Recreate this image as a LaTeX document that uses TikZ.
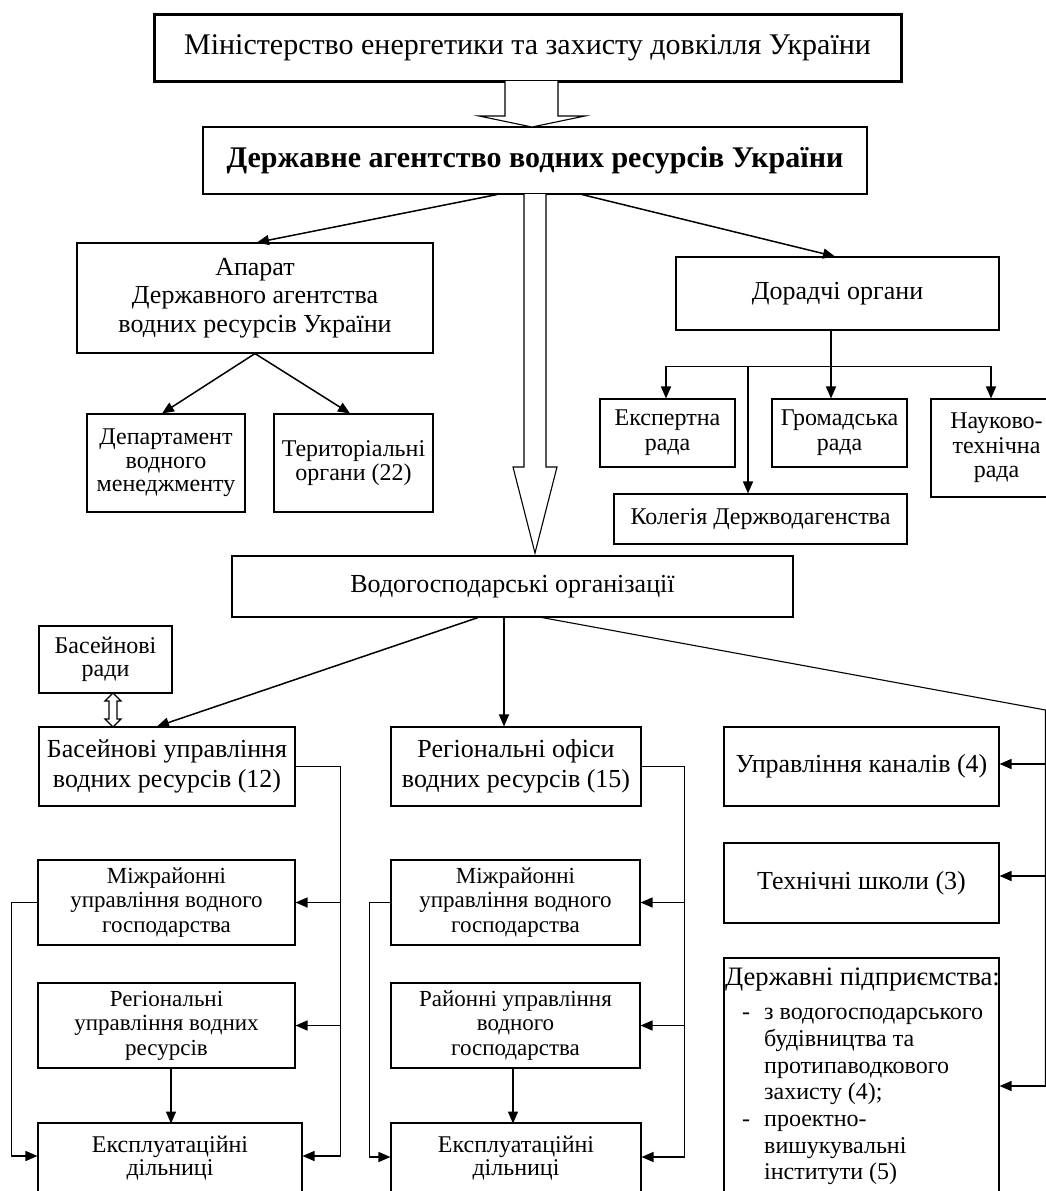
\documentclass[tikz,border=0pt]{standalone}
\usepackage{fontspec}
\setmainfont{Liberation Serif}
\usetikzlibrary{arrows.meta,calc}
\begin{document}
\begin{tikzpicture}[x=1pt,y=-1pt,
  box/.style={draw, rectangle, line width=1.1pt, inner sep=0pt, align=center},
  fbig/.style={font=\fontsize{30}{35}\selectfont},
  fmid/.style={font=\fontsize{26}{#1}\selectfont},
  fsm/.style={font=\fontsize{24}{#1}\selectfont},
  flow/.style={font=\fontsize{23}{24.5}\selectfont},
  arr/.style={-{Triangle[length=12pt,width=10pt]}, line width=1.5pt},
  ln/.style={line width=1.3pt},
  hollow/.style={draw, line width=1.1pt, fill=white, line join=miter},
]
\useasboundingbox (0,0) rectangle (1046,1191);

% top level
\node[box, line width=3pt, fbig, minimum width=747pt, minimum height=67pt] (min) at (527.5,47.5) {Міністерство енергетики та захисту довкілля України};
\node[box, fbig, minimum width=664pt, minimum height=67pt] (ag) at (535,160.5) {\textbf{Державне агентство водних ресурсів України}};

% apparatus
\node[box, fmid=28.5, minimum width=356pt, minimum height=110pt] (app) at (255,298) {Апарат\\Державного агентства\\водних ресурсів України};
\node[box, fsm=23.5, minimum width=158pt, minimum height=98pt] (dept) at (166,463) {Департамент\\водного\\менеджменту};
\node[box, fsm=23.5, minimum width=159pt, minimum height=98pt] (terr) at (353.5,463) {Територіальні\\органи (22)};

% advisory bodies
\node[box, fmid=28, minimum width=323pt, minimum height=73pt] (dor) at (837.5,293.5) {Дорадчі органи};
\node[box, fsm=25, minimum width=135pt, minimum height=68pt] (eksp) at (667.5,433) {Експертна\\рада};
\node[box, fsm=25, minimum width=135pt, minimum height=68pt] (hrom) at (839.5,433) {Громадська\\рада};
\node[box, fsm=24.5, minimum width=131pt, minimum height=98pt] (nauk) at (996.5,448) {Науково-\\технічна\\рада};
\node[box, fsm=28, minimum width=293pt, minimum height=50pt] (kol) at (760.5,519) {Колегія Держводагенства};

% water organisations
\node[box, fmid=28, minimum width=561pt, minimum height=61pt] (vodo) at (512.5,586.5) {Водогосподарські організації};
\node[box, fsm=23, minimum width=133pt, minimum height=67pt] (brady) at (105.5,659.5) {Басейнові\\ради};
\node[box, fmid=30, minimum width=256pt, minimum height=79pt] (bupr) at (167,766.5) {Басейнові управління\\водних ресурсів (12)};
\node[box, fmid=30, minimum width=250pt, minimum height=79pt] (rofis) at (516,766.5) {Регіональні офіси\\водних ресурсів (15)};
\node[box, fmid=28, minimum width=275pt, minimum height=79pt] (kan) at (861.5,766.5) {Управління каналів (4)};
\node[box, fmid=28, minimum width=275pt, minimum height=80pt] (tekh) at (861.5,883) {Технічні школи (3)};
\node[box, minimum width=275pt, minimum height=277pt] (dp) at (861.5,1096.5) {};
\node[anchor=base west, inner sep=0pt, font=\fontsize{24}{26.7}\selectfont] (dptext) at (725,985)
 {\begin{tabular}[t]{@{}l@{}}
  {\fontsize{26.6}{26.7}\selectfont Державні підприємства:}\\[8pt]
  \makebox[39pt][l]{\hspace*{17pt}-}з водогосподарського\\
  \hspace*{39pt}будівництва та\\
  \hspace*{39pt}протипаводкового\\
  \hspace*{39pt}захисту (4);\\
  \makebox[39pt][l]{\hspace*{17pt}-}проектно-\\
  \hspace*{39pt}вишукувальні\\
  \hspace*{39pt}інститути (5)
 \end{tabular}};

% left column
\node[box, flow, minimum width=257pt, minimum height=85pt] (lmiz) at (166.5,902.5) {Міжрайонні\\управління водного\\господарства};
\node[box, flow, minimum width=257pt, minimum height=85pt] (lreg) at (166.5,1025.5) {Регіональні\\управління водних\\ресурсів};
\node[box, fsm=23.5, minimum width=264pt, minimum height=70pt] (lexp) at (170,1158) {Експлуатаційні\\дільниці};

% right column
\node[box, flow, minimum width=249pt, minimum height=85pt] (rmiz) at (515.5,902.5) {Міжрайонні\\управління водного\\господарства};
\node[box, flow, minimum width=249pt, minimum height=85pt] (rrai) at (515.5,1025.5) {Районні управління\\водного\\господарства};
\node[box, fsm=23.5, minimum width=250pt, minimum height=70pt] (rexp) at (516,1158) {Експлуатаційні\\дільниці};

% hollow arrows
\draw[hollow] (505,81) -- (505,116) -- (479,116) -- (532,127) -- (585,116) -- (558,116) -- (558,81);
\draw[hollow] (524,194) -- (524,467) -- (513,467) -- (535,553) -- (557,467) -- (546,467) -- (546,194);
\draw[hollow] (113,693) -- (121,701) -- (117,701) -- (117,719) -- (121,719) -- (113,727) -- (105,719) -- (109,719) -- (109,701) -- (105,701) -- cycle;

% agency connectors
\draw[arr] ($(ag.south)+(-38,0)$) -- ($(app.north)+(2,0)$);
\draw[arr] ($(ag.south)+(47,0)$) -- ($(dor.north)+(-2.5,0)$);
\draw[arr] (app.south) -- ($(dept.north)+(-4,0)$);
\draw[arr] (app.south) -- ($(terr.north)+(-3.5,0)$);

% advisory branch
\coordinate (br) at ($(dor.south)+(-6.5,37)$);
\coordinate (brL) at ($(eksp.north)+(-1.5,-32)$);
\coordinate (brR) at ($(nauk.north)+(-5.5,-32)$);
\draw[ln] ($(dor.south)+(-6.5,0)$) -- (br);
\draw[ln] (brL) -- (brR);
\draw[arr] (brL) -- ($(eksp.north)+(-1.5,0)$);
\draw[arr] (br) -- (br |- hrom.north);
\draw[arr] (brR) -- ($(nauk.north)+(-5.5,0)$);
\draw[arr] ($(kol.north)+(-12.5,-127)$) -- ($(kol.north)+(-12.5,0)$);

% water organisations connectors
\draw[arr] ($(vodo.south)+(-34.5,0)$) -- ($(bupr.north)+(-10,0)$);
\draw[arr] ($(vodo.south)+(-8.5,0)$) -- ($(rofis.north)+(-12,0)$);
\coordinate (rt) at (1045.5,710);
\coordinate (rb) at (1045.5,1086);
\draw[line width=1.1pt] ($(vodo.south)+(29.5,0)$) -- (rt) -- (rb);
\draw[arr] ($(kan.east)+(46,-2.5)$) -- ($(kan.east)+(0,-2.5)$);
\draw[arr] ($(tekh.east)+(46,-7)$) -- ($(tekh.east)+(0,-7)$);
\draw[arr] (rb) -- (rb -| dp.east);

% left column connectors
\coordinate (lt) at ($(bupr.east)+(45,0)$);
\coordinate (lexpR) at ($(lexp.east)+(0,-2)$);
\coordinate (lexpL) at ($(lexp.west)+(0,-2)$);
\draw[ln] (bupr.east) -- (lt) -- (lt |- lexpR);
\draw[arr] (lt |- lmiz.east) -- (lmiz.east);
\draw[arr] (lt |- lreg.east) -- (lreg.east);
\draw[arr] (lt |- lexpR) -- (lexpR);
\draw[arr] (lmiz.west) -- ++(-26,0) |- (lexpL);
\draw[arr] ($(lreg.south)+(4.5,0)$) -- ($(lreg.south)+(4.5,55)$);

% right column connectors
\coordinate (rt2) at ($(rofis.east)+(43,0)$);
\coordinate (rexpR) at ($(rexp.east)+(0,-1)$);
\coordinate (rexpL) at ($(rexp.west)+(0,-1)$);
\draw[ln] (rofis.east) -- (rt2) -- (rt2 |- rexpR);
\draw[arr] (rt2 |- rmiz.east) -- (rmiz.east);
\draw[arr] (rt2 |- rrai.east) -- (rrai.east);
\draw[arr] (rt2 |- rexpR) -- (rexpR);
\draw[arr] (rmiz.west) -- ++(-21,0) |- (rexpL);
\draw[arr] ($(rrai.south)+(-2.5,0)$) -- ($(rrai.south)+(-2.5,55)$);
\end{tikzpicture}
\end{document}
